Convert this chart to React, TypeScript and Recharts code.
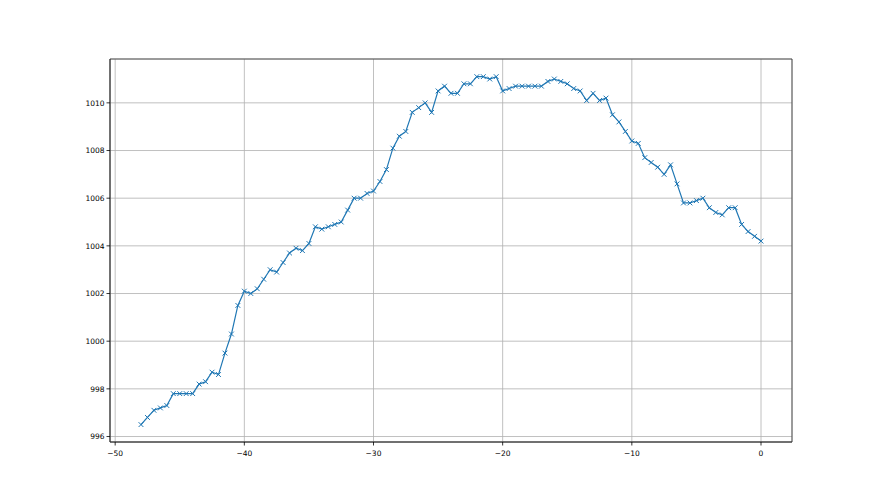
import React from 'react';
import {
  LineChart,
  Line,
  XAxis,
  YAxis,
  CartesianGrid,
  ReferenceArea
} from 'recharts';

// hours relative to now, one reading every half hour
const hours = [
  -48, -47.5, -47, -46.5, -46, -45.5, -45, -44.5, -44, -43.5,
  -43, -42.5, -42, -41.5, -41, -40.5, -40, -39.5, -39, -38.5,
  -38, -37.5, -37, -36.5, -36, -35.5, -35, -34.5, -34, -33.5,
  -33, -32.5, -32, -31.5, -31, -30.5, -30, -29.5, -29, -28.5,
  -28, -27.5, -27, -26.5, -26, -25.5, -25, -24.5, -24, -23.5,
  -23, -22.5, -22, -21.5, -21, -20.5, -20, -19.5, -19, -18.5,
  -18, -17.5, -17, -16.5, -16, -15.5, -15, -14.5, -14, -13.5,
  -13, -12.5, -12, -11.5, -11, -10.5, -10, -9.5, -9, -8.5,
  -8, -7.5, -7, -6.5, -6, -5.5, -5, -4.5, -4, -3.5,
  -3, -2.5, -2, -1.5, -1, -0.5, 0
];

const pressure = [
  996.5, 996.8, 997.1, 997.2, 997.3, 997.8, 997.8, 997.8, 997.8, 998.2,
  998.3, 998.7, 998.6, 999.5, 1000.3, 1001.5, 1002.1, 1002.0, 1002.2, 1002.6,
  1003.0, 1002.9, 1003.3, 1003.7, 1003.9, 1003.8, 1004.1, 1004.8, 1004.7, 1004.8,
  1004.9, 1005.0, 1005.5, 1006.0, 1006.0, 1006.2, 1006.3, 1006.7, 1007.2, 1008.1,
  1008.6, 1008.8, 1009.6, 1009.8, 1010.0, 1009.6, 1010.5, 1010.7, 1010.4, 1010.4,
  1010.8, 1010.8, 1011.1, 1011.1, 1011.0, 1011.1, 1010.5, 1010.6, 1010.7, 1010.7,
  1010.7, 1010.7, 1010.7, 1010.9, 1011.0, 1010.9, 1010.8, 1010.6, 1010.5, 1010.1,
  1010.4, 1010.1, 1010.2, 1009.5, 1009.2, 1008.8, 1008.4, 1008.3, 1007.7, 1007.5,
  1007.3, 1007.0, 1007.4, 1006.6, 1005.8, 1005.8, 1005.9, 1006.0, 1005.6, 1005.4,
  1005.3, 1005.6, 1005.6, 1004.9, 1004.6, 1004.4, 1004.2
];

const xTicks = [-50, -40, -30, -20, -10, 0];
const yTicks = [996, 998, 1000, 1002, 1004, 1006, 1008, 1010];

const X_DOMAIN: [number, number] = [-50.4, 2.4];
const Y_DOMAIN: [number, number] = [995.77, 1011.84];

const data = hours.map((h, i) => ({ h, p: pressure[i] }));

const BLUE = '#1f77b4';
const tickStyle = { fontFamily: 'DejaVu Sans', fontSize: 7.5, fill: '#000' };

const XMark = (props: any) => {
  const { cx, cy, index } = props;
  if (cx == null || cy == null) return null;
  const s = 2.4;
  return (
    <path
      key={`m-${index}`}
      d={`M${cx - s},${cy - s}L${cx + s},${cy + s}M${cx - s},${cy + s}L${cx + s},${cy - s}`}
      stroke={BLUE}
      strokeWidth={1}
      fill="none"
    />
  );
};

const minus = (v: number) => String(v).replace('-', '\u2212');

export default function App() {
  return (
    <div style={{ position: 'absolute', left: 0, top: 0, width: 880, height: 495, background: '#fff' }}>
      <LineChart
        width={880}
        height={495}
        data={data}
        margin={{ top: 59, right: 88, bottom: 23, left: 50 }}
      >
        <CartesianGrid stroke="#b0b0b0" strokeWidth={0.8} />
        <XAxis
          dataKey="h"
          type="number"
          domain={X_DOMAIN}
          ticks={xTicks}
          allowDataOverflow
          height={30}
          tickSize={3.5}
          tickMargin={5}
          tickFormatter={minus}
          tick={tickStyle}
          axisLine={{ stroke: '#333', strokeWidth: 0.8 }}
          tickLine={{ stroke: '#000', strokeWidth: 0.8 }}
        />
        <YAxis
          type="number"
          domain={Y_DOMAIN}
          ticks={yTicks}
          allowDataOverflow
          width={60}
          tickSize={3.5}
          tickMargin={2}
          tick={tickStyle}
          axisLine={{ stroke: '#333', strokeWidth: 0.8 }}
          tickLine={{ stroke: '#000', strokeWidth: 0.8 }}
        />
        <ReferenceArea
          x1={X_DOMAIN[0]}
          x2={X_DOMAIN[1]}
          y1={Y_DOMAIN[0]}
          y2={Y_DOMAIN[1]}
          fill="none"
          stroke="#333"
          strokeWidth={0.8}
          ifOverflow="visible"
        />
        <Line
          type="linear"
          dataKey="p"
          stroke={BLUE}
          strokeWidth={1.2}
          dot={<XMark />}
          activeDot={false}
          isAnimationActive={false}
        />
      </LineChart>
    </div>
  );
}
